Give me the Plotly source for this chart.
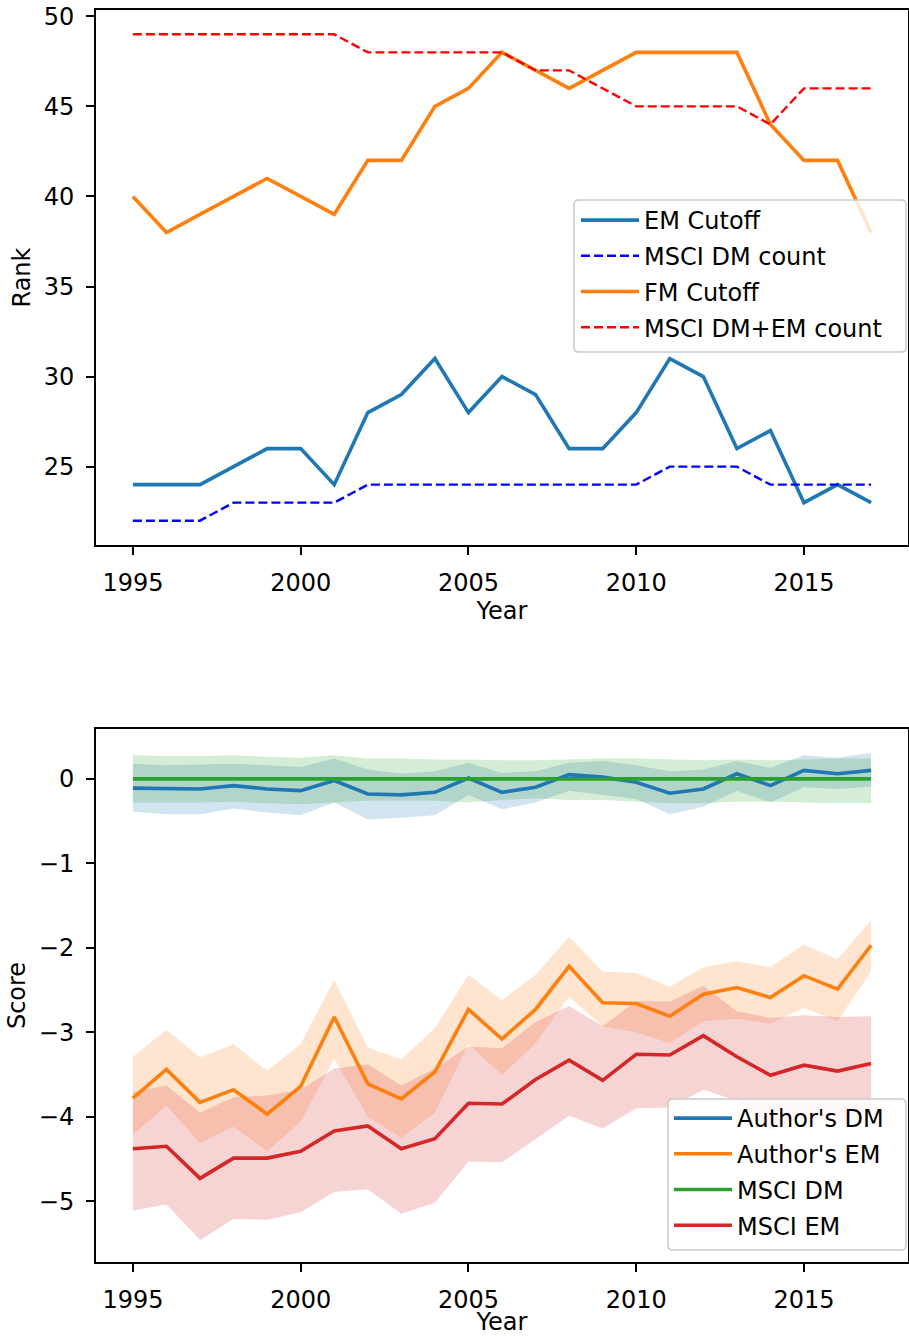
import plotly.graph_objects as go

years = [1995, 1996, 1997, 1998, 1999, 2000, 2001, 2002, 2003, 2004, 2005, 2006,
         2007, 2008, 2009, 2010, 2011, 2012, 2013, 2014, 2015, 2016, 2017]

# ---- top panel (Rank) ----
em_cutoff = [24, 24, 24, 25, 26, 26, 24, 28, 29, 31, 28, 30, 29, 26, 26, 28, 31, 30, 26, 27, 23, 24, 23]
msci_dm_count = [22, 22, 22, 23, 23, 23, 23, 24, 24, 24, 24, 24, 24, 24, 24, 24, 25, 25, 25, 24, 24, 24, 24]
fm_cutoff = [40, 38, 39, 40, 41, 40, 39, 42, 42, 45, 46, 48, 47, 46, 47, 48, 48, 48, 48, 44, 42, 42, 38]
msci_dmem_count = [49, 49, 49, 49, 49, 49, 49, 48, 48, 48, 48, 48, 47, 47, 46, 45, 45, 45, 45, 44, 46, 46, 46]

# ---- bottom panel (Score) ----
authors_dm = [-0.11, -0.11, -0.12, -0.08, -0.12, -0.14, -0.02, -0.18, -0.19, -0.16, 0.01, -0.16,
              -0.10, 0.05, 0.02, -0.04, -0.17, -0.12, 0.06, -0.08, 0.10, 0.06, 0.10]
authors_dm_upper = [0.18, 0.16, 0.17, 0.18, 0.16, 0.14, 0.24, 0.11, 0.06, 0.09, 0.19, 0.07,
                    0.09, 0.19, 0.21, 0.16, 0.09, 0.11, 0.21, 0.13, 0.28, 0.25, 0.31]
authors_dm_lower = [-0.39, -0.42, -0.42, -0.35, -0.40, -0.43, -0.28, -0.48, -0.46, -0.43, -0.19, -0.36,
                    -0.28, -0.14, -0.19, -0.24, -0.42, -0.33, -0.14, -0.28, -0.10, -0.12, -0.09]

authors_em = [-3.78, -3.44, -3.83, -3.68, -3.97, -3.64, -2.82, -3.61, -3.79, -3.47, -2.73, -3.08,
              -2.73, -2.22, -2.65, -2.66, -2.81, -2.55, -2.47, -2.59, -2.33, -2.49, -1.97]
authors_em_upper = [-3.29, -2.97, -3.30, -3.14, -3.46, -3.14, -2.38, -3.18, -3.32, -2.95, -2.32, -2.62,
                    -2.32, -1.87, -2.28, -2.30, -2.46, -2.23, -2.16, -2.23, -1.96, -2.14, -1.67]
authors_em_lower = [-4.21, -3.87, -4.31, -4.12, -4.41, -4.06, -3.31, -4.00, -4.25, -3.95, -3.14, -3.51,
                    -3.13, -2.58, -2.93, -3.00, -3.13, -2.87, -2.84, -2.90, -2.71, -2.87, -2.28]

msci_dm = [0, 0, 0, 0, 0, 0, 0, 0, 0, 0, 0, 0, 0, 0, 0, 0, 0, 0, 0, 0, 0, 0, 0]
msci_dm_upper = [0.28, 0.27, 0.27, 0.28, 0.26, 0.25, 0.28, 0.24, 0.24, 0.23, 0.23, 0.22,
                 0.22, 0.23, 0.24, 0.24, 0.23, 0.22, 0.23, 0.22, 0.23, 0.24, 0.24]
msci_dm_lower = [-0.28, -0.28, -0.28, -0.27, -0.29, -0.30, -0.28, -0.26, -0.26, -0.26, -0.28, -0.25,
                 -0.23, -0.25, -0.25, -0.27, -0.29, -0.29, -0.27, -0.27, -0.28, -0.29, -0.29]

msci_em = [-4.38, -4.35, -4.73, -4.49, -4.49, -4.41, -4.17, -4.11, -4.38, -4.26, -3.84, -3.85,
           -3.56, -3.33, -3.57, -3.26, -3.27, -3.04, -3.29, -3.51, -3.39, -3.46, -3.37]
msci_em_upper = [-3.71, -3.63, -3.95, -3.77, -3.75, -3.68, -3.43, -3.38, -3.63, -3.43, -3.17, -3.19,
                 -2.88, -2.69, -2.93, -2.63, -2.64, -2.45, -2.75, -2.83, -2.80, -2.82, -2.81]
msci_em_lower = [-5.11, -5.04, -5.46, -5.21, -5.22, -5.13, -4.89, -4.86, -5.15, -5.02, -4.53, -4.54,
                 -4.27, -3.99, -4.14, -3.90, -3.89, -3.68, -3.81, -4.17, -3.97, -4.08, -3.94]

x_ticks = [1995, 2000, 2005, 2010, 2015]
rank_ticks = [25, 30, 35, 40, 45, 50]
score_ticks = [-5, -4, -3, -2, -1, 0]

BLUE, ORANGE, GREEN, RED = "#1f77b4", "#ff7f0e", "#2ca02c", "#d62728"
FONT = "DejaVu Sans"
FS = 24
LW = 3.6

# figure geometry (pixels)
W, H = 909, 1336
ML, MR, MT, MB = 96, 1, 10, 74
PW, PH = W - ML - MR, H - MT - MB


def px_x(px):
    return (px - ML) / PW


def px_y(py):
    return (H - MB - py) / PH


fig = go.Figure()

# top panel lines
top_series = [
    ("EM Cutoff", em_cutoff, BLUE, "solid", LW),
    ("MSCI DM count", msci_dm_count, "#0000ff", "9px,4px", 2.4),
    ("FM Cutoff", fm_cutoff, ORANGE, "solid", LW),
    ("MSCI DM+EM count", msci_dmem_count, "#ff0000", "9px,4px", 2.4),
]
for name, vals, col, dash, w in top_series:
    fig.add_trace(go.Scatter(x=years, y=vals, mode="lines", name=name,
                             line=dict(color=col, width=w, dash=dash),
                             xaxis="x", yaxis="y", legend="legend", legendgroup=name))


def rgba(hexc, a):
    h = hexc.lstrip("#")
    return "rgba(%d,%d,%d,%s)" % (int(h[0:2], 16), int(h[2:4], 16), int(h[4:6], 16), a)


bottom_series = [
    ("Author's DM", authors_dm, authors_dm_upper, authors_dm_lower, BLUE),
    ("Author's EM", authors_em, authors_em_upper, authors_em_lower, ORANGE),
    ("MSCI DM", msci_dm, msci_dm_upper, msci_dm_lower, GREEN),
    ("MSCI EM", msci_em, msci_em_upper, msci_em_lower, RED),
]
# bands first (below lines, like matplotlib zorder)
for name, vals, up, lo, col in bottom_series:
    fig.add_trace(go.Scatter(x=years + years[::-1], y=up + lo[::-1], mode="lines",
                             fill="toself", fillcolor=rgba(col, 0.2),
                             line=dict(width=0, color=rgba(col, 0)),
                             hoverinfo="skip", showlegend=False,
                             xaxis="x2", yaxis="y2"))
for name, vals, up, lo, col in bottom_series:
    fig.add_trace(go.Scatter(x=years, y=vals, mode="lines", name=name,
                             line=dict(color=col, width=LW),
                             xaxis="x2", yaxis="y2", legend="legend2", legendgroup=name))


def rounded_frame(x0, y0, x1, y1, r=5):
    # pixel box -> paper path with rounded corners
    X = lambda v: px_x(v)
    Y = lambda v: px_y(v)
    p = []
    p.append("M %f,%f" % (X(x0 + r), Y(y0)))
    p.append("L %f,%f" % (X(x1 - r), Y(y0)))
    p.append("Q %f,%f %f,%f" % (X(x1), Y(y0), X(x1), Y(y0 + r)))
    p.append("L %f,%f" % (X(x1), Y(y1 - r)))
    p.append("Q %f,%f %f,%f" % (X(x1), Y(y1), X(x1 - r), Y(y1)))
    p.append("L %f,%f" % (X(x0 + r), Y(y1)))
    p.append("Q %f,%f %f,%f" % (X(x0), Y(y1), X(x0), Y(y1 - r)))
    p.append("L %f,%f" % (X(x0), Y(y0 + r)))
    p.append("Q %f,%f %f,%f" % (X(x0), Y(y0), X(x0 + r), Y(y0)))
    p.append("Z")
    return dict(type="path", path=" ".join(p), xref="paper", yref="paper",
                fillcolor="rgba(255,255,255,0.8)", line=dict(color="#cccccc", width=1.5),
                layer="above")


shapes = [rounded_frame(574, 200, 906, 352), rounded_frame(668, 1099, 906, 1250)]

axis_common = dict(showline=True, mirror=True, linecolor="black", linewidth=1.9,
                   ticks="outside", ticklen=8, tickwidth=1.9, tickcolor="black",
                   showgrid=False, zeroline=False, automargin=False,
                   tickfont=dict(family=FONT, size=FS, color="black"),
                   ticklabelstandoff=7)

x_range = [1993.9, 2018.1]
top_dom0 = px_y(545)
bot_dom1 = px_y(729)
legend_common = dict(bgcolor="rgba(0,0,0,0)", borderwidth=0,
                     font=dict(family=FONT, size=FS, color="black"),
                     traceorder="grouped", tracegroupgap=1.5, itemwidth=58,
                     xanchor="left", yanchor="top")

fig.update_layout(
    width=W, height=H,
    margin=dict(l=ML, r=MR, t=MT, b=MB),
    plot_bgcolor="white", paper_bgcolor="white",
    font=dict(family=FONT, size=FS, color="black"),
    xaxis=dict(axis_common, domain=[0, 1], range=x_range, tickvals=x_ticks,
               anchor="y", title=dict(text="Year", standoff=0, font=dict(family=FONT, size=FS))),
    yaxis=dict(axis_common, domain=[top_dom0, 1], range=[20.65, 50.35], tickvals=rank_ticks,
               anchor="x", title=dict(text="Rank", standoff=6, font=dict(family=FONT, size=FS))),
    xaxis2=dict(axis_common, domain=[0, 1], range=x_range, tickvals=x_ticks,
                anchor="y2", title=dict(text="Year", standoff=4, font=dict(family=FONT, size=FS))),
    yaxis2=dict(axis_common, domain=[0, bot_dom1], range=[-5.72, 0.59], tickvals=score_ticks,
                anchor="x2", title=dict(text="Score", standoff=6, font=dict(family=FONT, size=FS))),
    legend=dict(legend_common, x=px_x(576), y=px_y(198)),
    legend2=dict(legend_common, x=px_x(669), y=px_y(1096)),
    shapes=shapes,
    showlegend=True,
)

fig.write_html("out.html",
               config={"displayModeBar": False},
               post_script="document.body.style.margin='0';document.body.style.padding='0';"
                           "document.documentElement.style.overflow='hidden';")
